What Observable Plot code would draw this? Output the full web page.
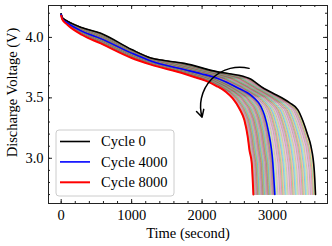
<!DOCTYPE html>
<html><head><meta charset="utf-8">
<script src="https://cdn.jsdelivr.net/npm/d3@7"></script>
<script src="https://cdn.jsdelivr.net/npm/@observablehq/plot@0.6"></script>
<style>
body{margin:0;background:#fff;}
#chart{width:332px;height:246px;}
</style></head><body><div id="chart"></div>
<script>
// ---- data ----
const cycle0Time = [0, 15, 88, 300, 562, 1000, 1273, 1511, 1747, 2222, 2387, 2672, 2885, 3000, 3240, 3360, 3430, 3500, 3545, 3592, 3610];
const cycle0Volt = [4.195, 4.165, 4.135, 4.08, 4.035, 3.90, 3.83, 3.805, 3.785, 3.715, 3.70, 3.66, 3.575, 3.54, 3.46, 3.40, 3.31, 3.19, 3.10, 2.90, 2.70];
const cycle4000Time = [0, 15, 88, 300, 562, 1000, 1273, 1747, 1984, 2222, 2482, 2720, 2838, 2885, 2942, 3004, 3032];
const cycle4000Volt = [4.19, 4.155, 4.12, 4.05, 3.99, 3.87, 3.805, 3.734, 3.70, 3.66, 3.59, 3.508, 3.425, 3.357, 3.22, 2.96, 2.70];
const cycle8000Time = [0, 15, 88, 300, 562, 1000, 1273, 1747, 1913, 2055, 2198, 2340, 2435, 2529, 2600, 2648, 2672, 2705, 2728];
const cycle8000Volt = [4.18, 4.15, 4.105, 4.02, 3.95, 3.83, 3.775, 3.70, 3.668, 3.64, 3.60, 3.549, 3.495, 3.412, 3.316, 3.178, 3.068, 2.96, 2.70];
const bandCycleStep = 100;
const highlightCycles = [0, 4000, 8000];
const highlightColors = ["black", "#0000ff", "#ff0000"];
const highlightWidths = [1.6, 1.6, 2];
const legendLabels = ["Cycle 0", "Cycle 4000", "Cycle 8000"];
const tab10 = ["#1f77b4","#ff7f0e","#2ca02c","#d62728","#9467bd","#8c564b","#e377c2","#7f7f7f","#bcbd22","#17becf"];
const xTicks = [0, 1000, 2000, 3000];
const xMinor = [0,200,400,600,800,1000,1200,1400,1600,1800,2000,2200,2400,2600,2800,3000,3200,3400,3600];
const yTicks = [3.0, 3.5, 4.0];
const yMinor = [2.7,2.8,2.9,3.0,3.1,3.2,3.3,3.4,3.5,3.6,3.7,3.8,3.9,4.0,4.1,4.2];
const arrowFrom = [2667, 3.744];
const arrowTo = [2000, 3.34];
const xLabel = "Time (second)";
const yLabel = "Discharge Voltage (V)";

// ---- build tables ----
const keys = [
  {c: 0, T: cycle0Time, V: cycle0Volt},
  {c: 4000, T: cycle4000Time, V: cycle4000Volt},
  {c: 8000, T: cycle8000Time, V: cycle8000Volt}
];
function tAtV(T, V, v) {
  if (v >= V[0]) return 0;
  for (let i = 1; i < V.length; i++) {
    if (v >= V[i]) { const f = (V[i-1]-v)/(V[i-1]-V[i]); return T[i-1] + f*(T[i]-T[i-1]); }
  }
  return T[T.length-1];
}
const band = [];
let idx = 0;
for (let c = 0; c <= 8000; c += bandCycleStep, idx++) {
  const k = c < 4000 ? 0 : 1;
  const A = keys[k], B = keys[Math.min(k+1, 2)];
  const w = B.c === A.c ? 0 : (c - A.c)/(B.c - A.c);
  const vs = (1-w)*A.V[0] + w*B.V[0];
  const color = tab10[idx % 10];
  band.push({cycle: c, t: 0, v: vs, color});
  for (let v = Math.floor(vs*200)/200; v >= 2.6999; v -= 0.005) {
    if (v >= vs) continue;
    band.push({cycle: c, t: (1-w)*tAtV(A.T, A.V, v) + w*tAtV(B.T, B.V, v), v, color});
  }
}
const highlight = keys.map((k, i) => k.T.map((t, j) => ({cycle: highlightCycles[i], t, v: k.V[j]}))).flat();

const W = 332, H = 246, mL = 48, mR = 5, mT = 5, mB = 43;
const innerW = W - mL - mR, innerH = H - mT - mB;
const majorLen = 4, minorLen = 2;

const plot = Plot.plot({
  width: W, height: H,
  marginLeft: mL, marginRight: mR, marginTop: mT, marginBottom: mB,
  style: {fontFamily: "'Liberation Serif', serif", fontSize: "14.5px", background: "white", color: "black"},
  x: {domain: [-180, 3780], ticks: xTicks, tickSize: 0, tickPadding: 6, label: null, tickFormat: d3.format("d")},
  y: {domain: [2.626, 4.264], ticks: yTicks, tickSize: 0, tickPadding: 5, label: null, tickFormat: d3.format(".1f")},
  color: {type: "identity"},
  marks: [
    Plot.line(band, {x: "t", y: "v", z: "cycle", stroke: "color", strokeOpacity: 0.55, strokeWidth: 1, curve: "monotone-x"}),
    ...highlightCycles.map((c, i) => Plot.line(highlight.filter(d => d.cycle === c), {x: "t", y: "v", stroke: highlightColors[i], strokeWidth: highlightWidths[i], curve: "monotone-x"})),
    Plot.arrow([{x1: arrowFrom[0], y1: arrowFrom[1], x2: arrowTo[0], y2: arrowTo[1]}], {x1: "x1", y1: "y1", x2: "x2", y2: "y2", bend: -60, stroke: "black", strokeWidth: 1.5, headLength: 8, headAngle: 56}),
    Plot.frame({stroke: "#222", strokeWidth: 1}),
    Plot.ruleX(xTicks, {x: d => d, insetTop: innerH - majorLen, stroke: "#222"}),
    Plot.ruleX(xTicks, {x: d => d, insetBottom: innerH - majorLen, stroke: "#222"}),
    Plot.ruleX(xMinor, {x: d => d, insetTop: innerH - minorLen, stroke: "#222"}),
    Plot.ruleX(xMinor, {x: d => d, insetBottom: innerH - minorLen, stroke: "#222"}),
    Plot.ruleY(yTicks, {y: d => d, insetRight: innerW - majorLen, stroke: "#222"}),
    Plot.ruleY(yTicks, {y: d => d, insetLeft: innerW - majorLen, stroke: "#222"}),
    Plot.ruleY(yMinor, {y: d => d, insetRight: innerW - minorLen, stroke: "#222"}),
    Plot.ruleY(yMinor, {y: d => d, insetLeft: innerW - minorLen, stroke: "#222"}),
    Plot.text([xLabel], {frameAnchor: "bottom", dy: 30, text: d => d, lineAnchor: "middle", textAnchor: "middle", fontSize: 14.5}),
    Plot.text([yLabel], {frameAnchor: "left", dx: -36, dy: -12, rotate: -90, text: d => d, lineAnchor: "middle", textAnchor: "middle", fontSize: 14.5})
  ]
});
document.getElementById("chart").appendChild(plot);

// legend inside the axes (lower left)
const svg = d3.select(plot);
const lg = svg.append("g").attr("transform", "translate(56,130)");
lg.append("rect").attr("width", 118).attr("height", 66).attr("rx", 3)
  .attr("fill", "white").attr("fill-opacity", 0.8).attr("stroke", "#cccccc").attr("stroke-width", 1);
legendLabels.forEach((lab, i) => {
  const y = 11.5 + i * 20.4;
  lg.append("line").attr("x1", 4).attr("x2", 34).attr("y1", y).attr("y2", y)
    .attr("stroke", highlightColors[i]).attr("stroke-width", highlightWidths[i]);
  lg.append("text").attr("x", 45).attr("y", y).attr("dy", "0.32em").attr("text-anchor", "start")
    .attr("font-family", "'Liberation Serif', serif").attr("font-size", 14.5).attr("fill", "black").text(lab);
});
</script>
</body></html>
